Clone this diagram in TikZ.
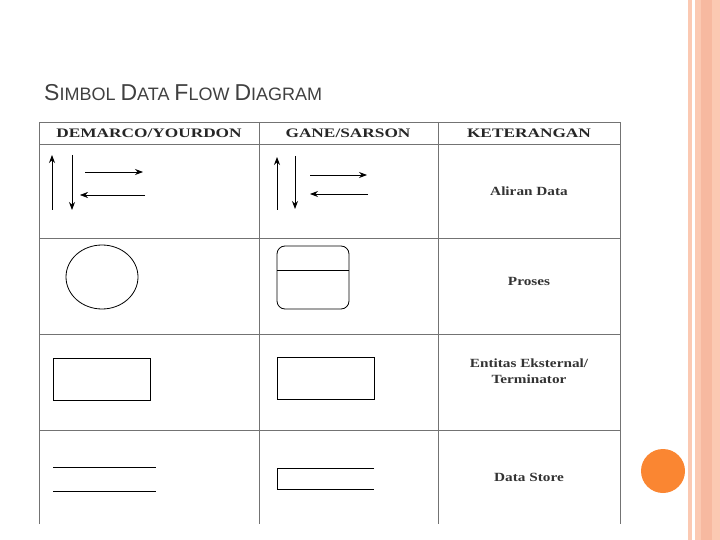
\documentclass[tikz,border=0pt]{standalone}
\usepackage{fontspec}
\setmainfont{Liberation Sans}
\newfontfamily\tms{Liberation Serif}
\usetikzlibrary{arrows.meta,positioning,shapes.geometric}
\definecolor{salmon}{RGB}{251,201,178}
\definecolor{salmondk}{RGB}{247,185,160}
\definecolor{dot}{RGB}{250,134,50}
\begin{document}
\begin{tikzpicture}[x=1pt,y=-1pt,
    grid/.style={draw=black!55, line width=0.8pt},
    head/.style={font=\tms\bfseries\fontsize{13}{14}\selectfont, text=black!85, xscale=1.33},
    desc/.style={font=\tms\bfseries\fontsize{12.5}{16}\selectfont, text=black!80, align=center, xscale=1.22},
    arr/.style={-{Stealth[length=8pt,width=6pt]}, line width=0.8pt},
    sym/.style={draw, line width=0.8pt}
]
    \useasboundingbox (0,0) rectangle (720,540);
    % right border stripes and dot
    \fill[salmon] (688,0) rectangle (692,540);
    \fill[salmon] (695,0) rectangle (720,540);
    \fill[salmondk] (701,0) rectangle (712,540);
    \fill[dot] (663,471) circle (22);
    % title
    \node[anchor=base west, inner sep=0pt, font=\fontsize{18}{20}\selectfont, text=black!75] (title) at (44,101)
        {{\fontsize{23}{24}\selectfont S}IMBOL {\fontsize{23}{24}\selectfont D}ATA {\fontsize{23}{24}\selectfont F}LOW {\fontsize{23}{24}\selectfont D}IAGRAM};
    % table grid
    \draw[grid] (39,524) -- (39,122) -- (620,122) -- (620,524);
    \draw[grid] (259,122) -- (259,524);
    \draw[grid] (438,122) -- (438,524);
    \foreach \y in {144,238,334,430} \draw[grid] (39,\y) -- (620,\y);
    % header
    \node[head] (hdm) at (149,133) {DEMARCO/YOURDON};
    \node[head] (hgs) at (348,133) {GANE/SARSON};
    \node[head] (hket) at (529,133) {KETERANGAN};
    % Aliran Data
    \coordinate (du1) at (52,210); \coordinate (du2) at (52,155);
    \coordinate (dd1) at (72,155); \coordinate (dd2) at (72,210);
    \coordinate (dr1) at (85,172); \coordinate (dr2) at (143,172);
    \coordinate (dl1) at (145,195); \coordinate (dl2) at (80,195);
    \draw[arr] (du1) -- (du2);
    \draw[arr] (dd1) -- (dd2);
    \draw[arr] (dr1) -- (dr2);
    \draw[arr, line width=0.5pt] (dl1) -- (dl2);
    \coordinate (gu1) at (277,210); \coordinate (gu2) at (277,157);
    \coordinate (gd1) at (295,156); \coordinate (gd2) at (295,209);
    \coordinate (gr1) at (310,175); \coordinate (gr2) at (367,175);
    \coordinate (gl1) at (368,194); \coordinate (gl2) at (310,194);
    \draw[arr] (gu1) -- (gu2);
    \draw[arr] (gd1) -- (gd2);
    \draw[arr] (gr1) -- (gr2);
    \draw[arr] (gl1) -- (gl2);
    \node[desc] (kdata) at (529,191) {Aliran Data};
    % Proses
    \node[sym, ellipse, minimum width=72pt, minimum height=64pt] (pdm) at (102,277) {};
    \node[sym, rectangle, rounded corners=8pt, minimum width=72pt, minimum height=63pt] (pgs) at (313,277.5) {};
    \draw[sym] (277,270) -- (349,270);
    \node[desc] (kproses) at (529,281) {Proses};
    % Entitas
    \node[sym, rectangle, minimum width=97pt, minimum height=42pt] (edm) at (101.5,379) {};
    \node[sym, rectangle, minimum width=97pt, minimum height=42pt] (egs) at (325.5,378) {};
    \node[desc] (kent) at (529,371) {Entitas Eksternal/\\Terminator};
    % Data store
    \draw[sym] (53,467) -- (156,467);
    \draw[sym] (53,491) -- (156,491);
    \draw[sym] (374,468) -- (277,468) -- (277,489) -- (374,489);
    \node[desc] (kstore) at (529,477) {Data Store};
\end{tikzpicture}
\end{document}
